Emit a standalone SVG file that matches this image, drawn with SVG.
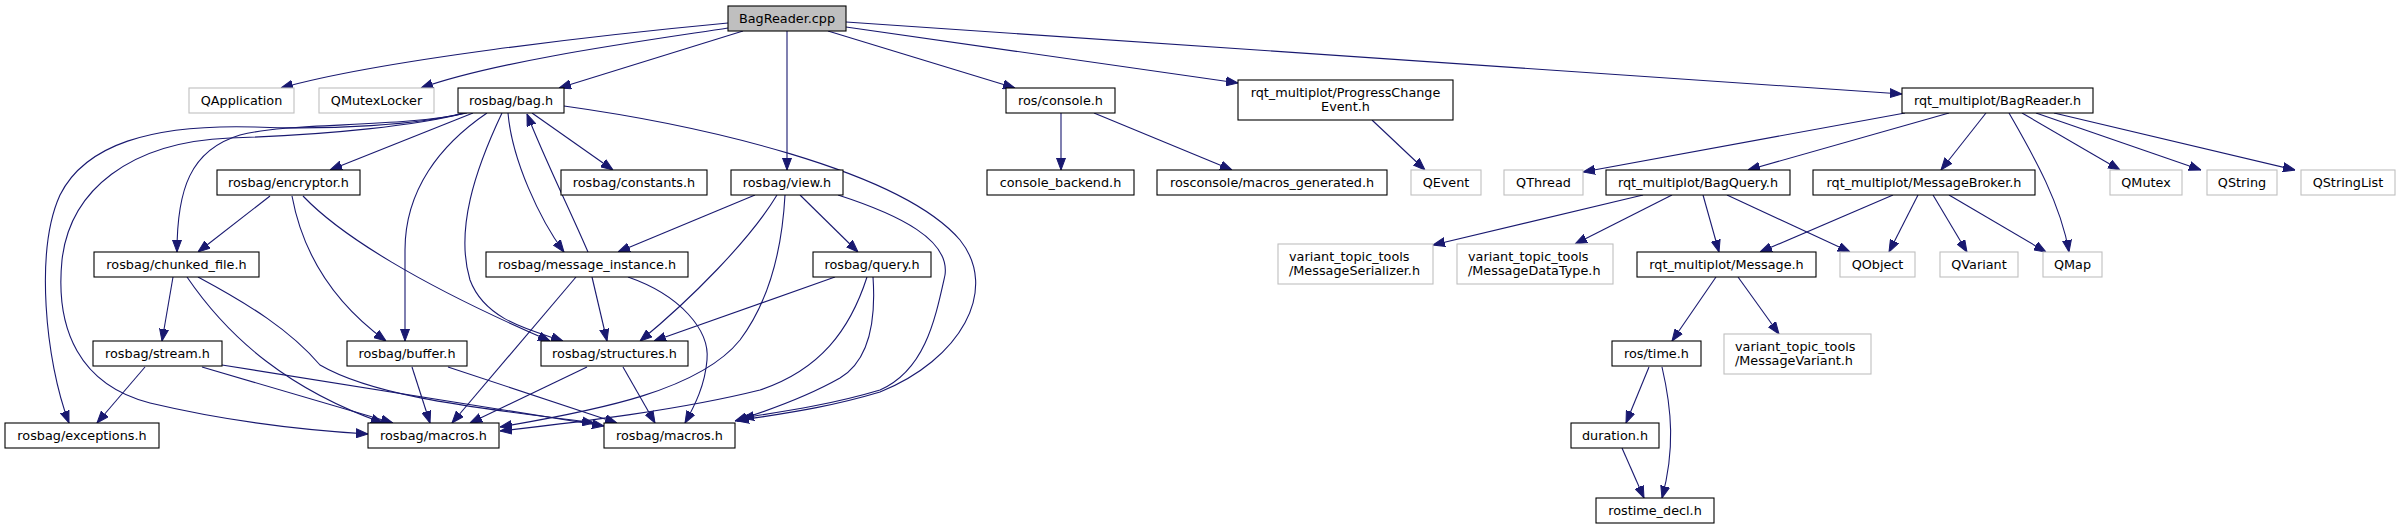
<svg xmlns="http://www.w3.org/2000/svg" width="2401" height="529" viewBox="0 0 2401 529">
<style>
.n rect{fill:#fff;stroke:#000;stroke-width:1.1}
.x rect{fill:#fff;stroke:#bfbfbf;stroke-width:1.1}
.r rect{fill:#bfbfbf;stroke:#000;stroke-width:1.1}
text{font-family:"DejaVu Sans","Liberation Sans",sans-serif;font-size:12.8px;fill:#000}
.c{text-anchor:middle}
#edges path{fill:none;stroke:#191970;stroke-width:1.1;marker-end:url(#a)}
</style>
<defs>
<marker id="a" markerUnits="userSpaceOnUse" markerWidth="12" markerHeight="10" refX="12" refY="5" orient="auto">
<path d="M0,0.5 L12,5 L0,9.5 z" fill="#191970" stroke="#191970" stroke-width="1"/>
</marker>
</defs>
<rect width="2401" height="529" fill="#fff"/>
<g id="edges">
<path d="M728,23 C600,35 380,60 281,88"/>
<path d="M728,28 C650,40 500,60 421,88"/>
<path d="M743,31 L559,88"/>
<path d="M787,31 L787,170"/>
<path d="M828,31 L1015,88"/>
<path d="M846,27 L1238,83"/>
<path d="M846,22 L1902,94"/>
<path d="M463,113 C420,125 330,130 255,127 C150,124 85,145 60,195 C35,250 45,360 69,423"/>
<path d="M465,113 C420,125 330,135 230,138 C130,142 70,190 62,260 C55,330 80,385 150,403 C230,422 300,430 368,434"/>
<path d="M467,113 C400,128 290,122 240,135 C190,150 177,190 177,252"/>
<path d="M473,113 L330,170"/>
<path d="M487,113 C440,145 405,190 405,250 L405,341"/>
<path d="M502,113 C475,170 455,230 470,280 C485,320 530,330 563,341"/>
<path d="M508,113 C512,160 540,220 564,252"/>
<path d="M588,252 C570,210 545,160 527,114"/>
<path d="M532,113 L613,170"/>
<path d="M564,106 C700,125 900,170 960,240 C1000,290 960,360 880,392 C820,410 770,415 737,421"/>
<path d="M755,195 L618,252"/>
<path d="M777,195 C750,240 690,300 640,341"/>
<path d="M785,195 C782,250 770,300 740,340 C700,390 600,410 500,427"/>
<path d="M800,195 L858,252"/>
<path d="M838,195 C900,215 950,240 945,275 C935,320 925,370 880,390 C830,405 780,412 742,418"/>
<path d="M835,277 L654,341"/>
<path d="M867,277 C850,330 820,370 760,390 C680,410 580,422 500,431"/>
<path d="M873,277 C876,320 870,360 840,378 C810,395 770,410 735,421"/>
<path d="M592,277 L607,341"/>
<path d="M576,277 L452,423"/>
<path d="M628,277 C680,295 710,330 707,360 C705,385 695,405 685,423"/>
<path d="M270,196 L198,252"/>
<path d="M292,196 C302,250 330,300 386,341"/>
<path d="M303,196 C340,235 420,285 550,341"/>
<path d="M173,277 L162,341"/>
<path d="M187,277 C230,340 290,390 383,423"/>
<path d="M198,277 C250,305 290,330 320,365 C380,400 500,410 594,423"/>
<path d="M145,367 L97,423"/>
<path d="M202,367 L393,423"/>
<path d="M222,365 L604,426"/>
<path d="M412,367 L430,423"/>
<path d="M448,367 L617,423"/>
<path d="M587,367 L470,423"/>
<path d="M623,367 L655,423"/>
<path d="M1061,113 L1061,170"/>
<path d="M1094,113 L1232,170"/>
<path d="M1372,120 L1425,170"/>
<path d="M1905,113 L1583,172"/>
<path d="M1949,113 L1748,170"/>
<path d="M1986,113 L1941,170"/>
<path d="M2009,113 C2030,150 2060,200 2069,252"/>
<path d="M2022,113 L2120,170"/>
<path d="M2036,113 L2201,170"/>
<path d="M2054,113 L2295,170"/>
<path d="M1643,195 L1433,245"/>
<path d="M1672,195 L1575,244"/>
<path d="M1703,195 L1719,252"/>
<path d="M1727,195 L1850,252"/>
<path d="M1893,195 L1760,252"/>
<path d="M1918,195 L1889,252"/>
<path d="M1933,195 L1967,252"/>
<path d="M1949,195 L2046,252"/>
<path d="M1716,277 L1672,341"/>
<path d="M1738,277 L1779,334"/>
<path d="M1649,367 L1626,423"/>
<path d="M1662,367 C1672,410 1675,450 1662,498"/>
<path d="M1622,448 L1644,498"/>
</g>
<g id="n1" class="r"><rect x="728" y="6" width="118" height="25"/><text class="c" x="787" y="22.5">BagReader.cpp</text></g>
<g id="n2" class="x"><rect x="189" y="88" width="105" height="25"/><text class="c" x="241.5" y="104.5">QApplication</text></g>
<g id="n3" class="x"><rect x="319" y="88" width="115" height="25"/><text class="c" x="376.5" y="104.5">QMutexLocker</text></g>
<g id="n4" class="n"><rect x="458" y="88" width="106" height="25"/><text class="c" x="511" y="104.5">rosbag/bag.h</text></g>
<g id="n5" class="n"><rect x="1006" y="88" width="109" height="25"/><text class="c" x="1060.5" y="104.5">ros/console.h</text></g>
<g id="n6" class="n"><rect x="1238" y="80" width="215" height="40"/><text class="c" x="1345.5" y="97">rqt_multiplot/ProgressChange</text><text class="c" x="1345.5" y="111">Event.h</text></g>
<g id="n7" class="n"><rect x="1902" y="88" width="191" height="25"/><text class="c" x="1997.5" y="104.5">rqt_multiplot/BagReader.h</text></g>
<g id="n8" class="n"><rect x="217" y="170" width="143" height="25"/><text class="c" x="288.5" y="186.5">rosbag/encryptor.h</text></g>
<g id="n9" class="n"><rect x="561" y="170" width="146" height="25"/><text class="c" x="634" y="186.5">rosbag/constants.h</text></g>
<g id="n10" class="n"><rect x="731" y="170" width="112" height="25"/><text class="c" x="787" y="186.5">rosbag/view.h</text></g>
<g id="n11" class="n"><rect x="987" y="170" width="147" height="25"/><text class="c" x="1060.5" y="186.5">console_backend.h</text></g>
<g id="n12" class="n"><rect x="1157" y="170" width="230" height="25"/><text class="c" x="1272" y="186.5">rosconsole/macros_generated.h</text></g>
<g id="n13" class="x"><rect x="1411" y="170" width="70" height="25"/><text class="c" x="1446" y="186.5">QEvent</text></g>
<g id="n14" class="x"><rect x="1504" y="170" width="79" height="25"/><text class="c" x="1543.5" y="186.5">QThread</text></g>
<g id="n15" class="n"><rect x="1606" y="170" width="184" height="25"/><text class="c" x="1698" y="186.5">rqt_multiplot/BagQuery.h</text></g>
<g id="n16" class="n"><rect x="1813" y="170" width="222" height="25"/><text class="c" x="1924" y="186.5">rqt_multiplot/MessageBroker.h</text></g>
<g id="n17" class="x"><rect x="2110" y="170" width="72" height="25"/><text class="c" x="2146" y="186.5">QMutex</text></g>
<g id="n18" class="x"><rect x="2207" y="170" width="70" height="25"/><text class="c" x="2242" y="186.5">QString</text></g>
<g id="n19" class="x"><rect x="2301" y="170" width="94" height="25"/><text class="c" x="2348" y="186.5">QStringList</text></g>
<g id="n20" class="n"><rect x="94" y="252" width="165" height="25"/><text class="c" x="176.5" y="268.5">rosbag/chunked_file.h</text></g>
<g id="n21" class="n"><rect x="486" y="252" width="202" height="25"/><text class="c" x="587" y="268.5">rosbag/message_instance.h</text></g>
<g id="n22" class="n"><rect x="813" y="252" width="118" height="25"/><text class="c" x="872" y="268.5">rosbag/query.h</text></g>
<g id="n23" class="x"><rect x="1278" y="244" width="155" height="40"/><text x="1289" y="261">variant_topic_tools</text><text x="1289" y="275">/MessageSerializer.h</text></g>
<g id="n24" class="x"><rect x="1457" y="244" width="156" height="40"/><text x="1468" y="261">variant_topic_tools</text><text x="1468" y="275">/MessageDataType.h</text></g>
<g id="n25" class="n"><rect x="1637" y="252" width="179" height="25"/><text class="c" x="1726.5" y="268.5">rqt_multiplot/Message.h</text></g>
<g id="n26" class="x"><rect x="1840" y="252" width="75" height="25"/><text class="c" x="1877.5" y="268.5">QObject</text></g>
<g id="n27" class="x"><rect x="1940" y="252" width="78" height="25"/><text class="c" x="1979" y="268.5">QVariant</text></g>
<g id="n28" class="x"><rect x="2043" y="252" width="59" height="25"/><text class="c" x="2072.5" y="268.5">QMap</text></g>
<g id="n29" class="n"><rect x="93" y="341" width="129" height="25"/><text class="c" x="157.5" y="357.5">rosbag/stream.h</text></g>
<g id="n30" class="n"><rect x="347" y="341" width="120" height="25"/><text class="c" x="407" y="357.5">rosbag/buffer.h</text></g>
<g id="n31" class="n"><rect x="541" y="341" width="147" height="25"/><text class="c" x="614.5" y="357.5">rosbag/structures.h</text></g>
<g id="n32" class="n"><rect x="1612" y="341" width="89" height="25"/><text class="c" x="1656.5" y="357.5">ros/time.h</text></g>
<g id="n33" class="x"><rect x="1724" y="334" width="147" height="40"/><text x="1735" y="351">variant_topic_tools</text><text x="1735" y="365">/MessageVariant.h</text></g>
<g id="n34" class="n"><rect x="5" y="423" width="154" height="25"/><text class="c" x="82" y="439.5">rosbag/exceptions.h</text></g>
<g id="n35" class="n"><rect x="368" y="423" width="131" height="25"/><text class="c" x="433.5" y="439.5">rosbag/macros.h</text></g>
<g id="n36" class="n"><rect x="604" y="423" width="131" height="25"/><text class="c" x="669.5" y="439.5">rosbag/macros.h</text></g>
<g id="n37" class="n"><rect x="1571" y="423" width="88" height="25"/><text class="c" x="1615" y="439.5">duration.h</text></g>
<g id="n38" class="n"><rect x="1596" y="498" width="118" height="25"/><text class="c" x="1655" y="514.5">rostime_decl.h</text></g>
</svg>
